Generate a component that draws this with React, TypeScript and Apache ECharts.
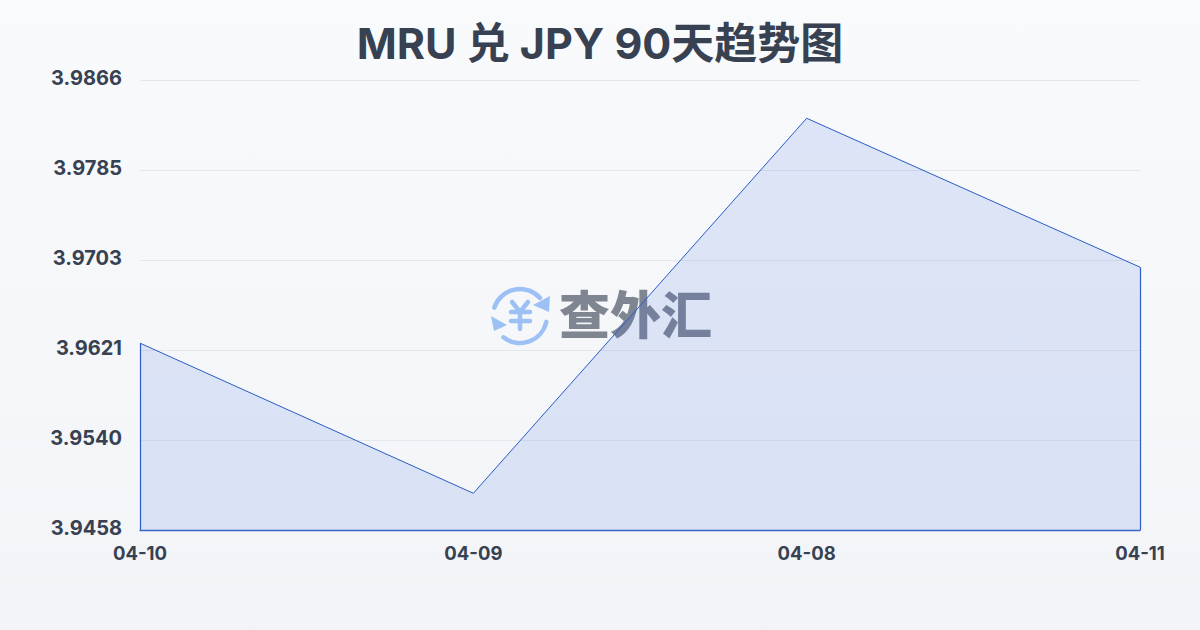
import React, { useEffect, useRef } from "react";
import * as echarts from "echarts";

const titleText = "MRU 兑 JPY 90天趋势图";
const categories = ["04-10", "04-09", "04-08", "04-11"];
const rateValues = [3.96276, 3.94915, 3.98315, 3.96965];
const yTicks = [3.94582, 3.95398, 3.96214, 3.9703, 3.97846, 3.98662];
const watermarkText = "查外汇";

const logoBlue = "#9dc0f5";
const yenStroke = { stroke: logoBlue, lineWidth: 4.5, lineCap: "round", lineJoin: "round", fill: "none" };

export default function App() {
  const ref = useRef<HTMLDivElement>(null);
  useEffect(() => {
    const chart = echarts.init(ref.current!, null, { renderer: "svg" });
    chart.setOption({
      animation: false,
      backgroundColor: {
        type: "linear", x: 0, y: 0, x2: 0, y2: 1,
        colorStops: [{ offset: 0, color: "#f8fafc" }, { offset: 1, color: "#f2f4f7" }],
      },
      title: {
        text: titleText,
        left: "center",
        top: 16,
        textStyle: { fontFamily: "Inter, 'Noto Sans CJK SC'", fontSize: 43, fontWeight: 700, color: "#374151" },
      },
      grid: { left: 140, right: 60, top: 80, bottom: 100 },
      xAxis: {
        type: "category",
        boundaryGap: false,
        data: categories,
        axisLine: { show: true, lineStyle: { color: "#3568c4", width: 1.3 } },
        axisTick: { show: false },
        splitLine: { show: false },
        axisLabel: {
          color: "#374151", fontFamily: "Inter", fontWeight: 700, fontSize: 18.5, margin: 13,
          hideOverlap: false, showMinLabel: true, showMaxLabel: true,
        },
      },
      yAxis: {
        type: "value",
        min: yTicks[0],
        max: yTicks[yTicks.length - 1],
        axisLine: { show: false },
        axisTick: { show: false, customValues: yTicks },
        splitLine: { show: true, lineStyle: { color: "#e5e7eb", width: 1 } },
        axisLabel: {
          customValues: yTicks,
          formatter: (v: number) => v.toFixed(4),
          color: "#374151", fontFamily: "Inter", fontWeight: 700, fontSize: 20, margin: 18,
          verticalAlign: "bottom",
          lineHeight: 4,
        },
      },
      series: [{
        type: "line",
        data: rateValues,
        symbol: "none",
        z: 5,
        lineStyle: { color: "#2a5cc4", width: 1 },
        itemStyle: { color: "#2a5cc4" },
        areaStyle: { color: "rgba(50,100,225,0.19)" },
        markLine: {
          silent: true,
          symbol: "none",
          label: { show: false },
          lineStyle: { color: "#2a5cc4", width: 1.2, type: "solid" },
          data: [
            [{ xAxis: categories[0], yAxis: yTicks[0] }, { xAxis: categories[0], yAxis: rateValues[0] }],
            [{ xAxis: categories[3], yAxis: yTicks[0] }, { xAxis: categories[3], yAxis: rateValues[3] }],
          ],
        },
      }],
      graphic: [
        {
          type: "group", z: 1, silent: true,
          children: [
            { type: "arc", shape: { cx: 520, cy: 316, r: 27, startAngle: 3.46, endAngle: 5.55, clockwise: true }, style: yenStroke },
            { type: "arc", shape: { cx: 520, cy: 316, r: 27, startAngle: 0.22, endAngle: 2.23, clockwise: true }, style: yenStroke },
            { type: "polygon", shape: { points: [[550, 296], [549, 312], [533, 305]] }, style: { fill: logoBlue } },
            { type: "polygon", shape: { points: [[491, 316], [507, 325], [494, 331]] }, style: { fill: logoBlue } },
            { type: "polyline", shape: { points: [[512, 302], [520, 312], [528, 302]] }, style: yenStroke },
            { type: "line", shape: { x1: 511, y1: 312, x2: 530, y2: 312 }, style: yenStroke },
            { type: "line", shape: { x1: 511, y1: 321, x2: 530, y2: 321 }, style: yenStroke },
            { type: "line", shape: { x1: 520, y1: 312, x2: 520, y2: 329 }, style: yenStroke },
            { type: "text", x: 559, y: 312, style: { text: watermarkText, fontFamily: "Noto Sans CJK SC", fontWeight: 900, fontSize: 51, fill: "#7f8692", verticalAlign: "middle" } },
          ],
        },
      ],
    });
    return () => chart.dispose();
  }, []);
  return <div ref={ref} style={{ position: "fixed", left: 0, top: 0, width: 1200, height: 630 }} />;
}
